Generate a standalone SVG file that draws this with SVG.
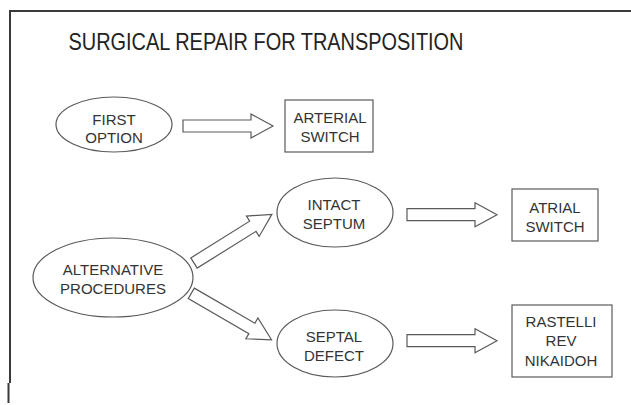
<svg xmlns="http://www.w3.org/2000/svg" width="631" height="405" viewBox="0 0 631 405">
<style>
.frame{stroke:#3a3a3a;stroke-width:2;fill:none}
.node{fill:#fff;stroke:#5a5a5a;stroke-width:1.2}
.arrow{fill:#fff;stroke:#5a5a5a;stroke-width:1.2;stroke-linejoin:miter}
text{font-family:"Liberation Sans",Arial,sans-serif;fill:#333;text-anchor:middle}
.lbl{font-size:15px}
.title{font-size:24px;fill:#222}
</style>
<defs>
<path id="arr" d="M0,-6 L68,-6 L68,-12 L90,0 L68,12 L68,6 L0,6 Z"/>
</defs>
<rect width="631" height="405" fill="#fff"/>
<path class="frame" d="M10,383 V11 H631"/>
<path class="frame" d="M8.5,383 V403"/>
<text class="title" x="266" y="50" textLength="395" lengthAdjust="spacingAndGlyphs">SURGICAL REPAIR FOR TRANSPOSITION</text>
<g id="connectors">
<use href="#arr" class="arrow" transform="translate(183,126)"/>
<use href="#arr" class="arrow" transform="translate(407,214.7)"/>
<use href="#arr" class="arrow" transform="translate(407,340.7)"/>
<use href="#arr" class="arrow" transform="translate(194,263) rotate(-32) scale(1.02,1)"/>
<use href="#arr" class="arrow" transform="translate(191.3,293.3) rotate(30.1) scale(1.03,1)"/>
</g>
<g id="first-option">
<ellipse class="node" cx="114" cy="124.5" rx="58" ry="27.5"/>
<text class="lbl" x="114" y="124.5">FIRST</text>
<text class="lbl" x="114" y="143">OPTION</text>
</g>
<g id="arterial-switch">
<rect class="node" x="285" y="100" width="88" height="52"/>
<text class="lbl" x="330" y="123">ARTERIAL</text>
<text class="lbl" x="330" y="141.5">SWITCH</text>
</g>
<g id="alternative-procedures">
<ellipse class="node" cx="113" cy="277.5" rx="80" ry="39.5"/>
<text class="lbl" x="113" y="275">ALTERNATIVE</text>
<text class="lbl" x="113" y="294">PROCEDURES</text>
</g>
<g id="intact-septum">
<ellipse class="node" cx="335" cy="212.5" rx="58" ry="34.5"/>
<text class="lbl" x="334" y="210">INTACT</text>
<text class="lbl" x="334" y="229">SEPTUM</text>
</g>
<g id="atrial-switch">
<rect class="node" x="512" y="189" width="86" height="52"/>
<text class="lbl" x="555" y="213">ATRIAL</text>
<text class="lbl" x="555" y="232">SWITCH</text>
</g>
<g id="septal-defect">
<ellipse class="node" cx="335" cy="343.5" rx="58" ry="33.5"/>
<text class="lbl" x="334" y="342">SEPTAL</text>
<text class="lbl" x="334" y="361">DEFECT</text>
</g>
<g id="rastelli">
<rect class="node" x="512" y="305" width="100" height="72"/>
<text class="lbl" x="561" y="327">RASTELLI</text>
<text class="lbl" x="561" y="346">REV</text>
<text class="lbl" x="561" y="366">NIKAIDOH</text>
</g>
</svg>
